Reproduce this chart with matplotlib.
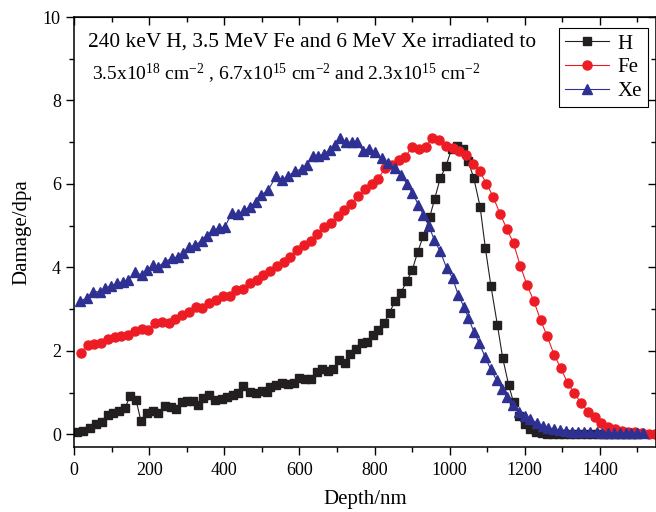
import matplotlib
matplotlib.use("Agg")
import matplotlib.pyplot as plt
from matplotlib.ticker import MultipleLocator

plt.rcParams['font.family'] = ['Liberation Serif', 'DejaVu Serif']
plt.rcParams['mathtext.fontset'] = 'custom'
plt.rcParams['mathtext.rm'] = 'Liberation Serif'
plt.rcParams['mathtext.it'] = 'Liberation Serif:italic'

# H (240 keV) damage profile
h_depth = [9, 25, 42, 59, 74, 91, 105, 121, 136, 149, 165, 178, 195, 209, 224, 242, 258, 271,
           287, 302, 318, 331, 344, 360, 375, 393, 408, 424, 437, 451, 468, 484, 500, 514,
           523, 539, 555, 571, 586, 600, 615, 630, 646, 660, 675, 690, 706, 721, 735, 751,
           766, 781, 795, 810, 825, 840, 855, 870, 886, 900, 915, 930, 947, 960, 975, 990,
           1005, 1020, 1035, 1049, 1064, 1081, 1095, 1110, 1127, 1141, 1157, 1170, 1185,
           1200, 1214, 1231, 1245, 1260, 1275, 1290, 1305, 1320, 1335, 1350, 1365, 1380,
           1395, 1410, 1425, 1440, 1455, 1470, 1485, 1500]
h_dpa = [0.07, 0.09, 0.15, 0.25, 0.29, 0.47, 0.51, 0.57, 0.64, 0.91, 0.83, 0.33, 0.51, 0.57,
         0.52, 0.68, 0.67, 0.60, 0.77, 0.81, 0.79, 0.71, 0.87, 0.95, 0.83, 0.84, 0.89, 0.95,
         0.99, 1.15, 1.01, 0.99, 1.03, 1.02, 1.13, 1.19, 1.24, 1.20, 1.24, 1.35, 1.33, 1.32,
         1.50, 1.58, 1.53, 1.58, 1.78, 1.72, 1.93, 2.05, 2.20, 2.21, 2.39, 2.51, 2.67, 2.92,
         3.20, 3.39, 3.68, 3.93, 4.37, 4.76, 5.21, 5.64, 6.14, 6.42, 6.84, 6.92, 6.85, 6.55,
         6.15, 5.46, 4.47, 3.55, 2.63, 1.84, 1.19, 0.77, 0.45, 0.25, 0.12, 0.05, 0.03, 0.02,
         0.01, 0.01, 0.01, 0.0, 0.0, 0.0, 0.0, 0.0, 0.0, 0.0, 0.0, 0.0, 0.0, 0.0, 0.0, 0.0]

# Fe (3.5 MeV)
fe_depth = [18, 36, 54, 72, 90, 108, 126, 144, 162, 180, 198, 216, 234, 252, 270, 288, 306,
            324, 342, 360, 378, 396, 414, 432, 450, 468, 486, 504, 522, 540, 558, 576, 594,
            612, 630, 648, 666, 684, 702, 720, 738, 756, 774, 792, 810, 828, 846, 864, 882,
            900, 918, 936, 954, 972, 990, 1008, 1026, 1044, 1062, 1080, 1098, 1116, 1134,
            1152, 1170, 1188, 1206, 1224, 1242, 1260, 1278, 1296, 1314, 1332, 1350, 1368,
            1386, 1404, 1422, 1440, 1458, 1476, 1494, 1512, 1530, 1546]
fe_dpa = [1.96, 2.15, 2.17, 2.19, 2.28, 2.33, 2.37, 2.39, 2.49, 2.53, 2.51, 2.67, 2.69, 2.67,
          2.77, 2.87, 2.94, 3.05, 3.04, 3.16, 3.21, 3.31, 3.31, 3.45, 3.48, 3.64, 3.71, 3.81,
          3.91, 4.03, 4.13, 4.25, 4.41, 4.53, 4.64, 4.80, 4.96, 5.07, 5.23, 5.37, 5.53, 5.72,
          5.88, 6.00, 6.13, 6.38, 6.45, 6.57, 6.65, 6.89, 6.85, 6.89, 7.11, 7.06, 6.92, 6.87,
          6.79, 6.70, 6.48, 6.30, 6.01, 5.69, 5.29, 4.93, 4.58, 4.04, 3.58, 3.20, 2.74, 2.35,
          1.91, 1.59, 1.23, 0.99, 0.75, 0.55, 0.41, 0.27, 0.19, 0.13, 0.08, 0.07, 0.05, 0.03,
          0.01, 0.01]

# Xe (6 MeV)
xe_depth = [16, 34, 50, 68, 83, 98, 114, 130, 145, 162, 180, 195, 211, 224, 242, 260, 278,
            291, 307, 322, 340, 353, 369, 387, 402, 420, 437, 452, 468, 484, 499, 517, 538,
            555, 571, 588, 606, 621, 635, 650, 666, 682, 695, 708, 724, 739, 753, 769, 785,
            801, 819, 837, 855, 870, 886, 901, 917, 930, 945, 959, 974, 992, 1008, 1023, 1038,
            1050, 1065, 1079, 1094, 1109, 1125, 1140, 1153, 1169, 1185, 1200, 1215, 1232,
            1248, 1263, 1278, 1294, 1311, 1327, 1342, 1358, 1373, 1391, 1406, 1422, 1438,
            1453, 1469, 1484, 1500, 1515]
xe_dpa = [3.19, 3.27, 3.42, 3.42, 3.50, 3.56, 3.62, 3.66, 3.70, 3.88, 3.82, 3.94, 4.06, 4.02,
          4.14, 4.22, 4.26, 4.34, 4.48, 4.54, 4.64, 4.76, 4.90, 4.94, 4.98, 5.30, 5.29, 5.37,
          5.45, 5.58, 5.74, 5.86, 6.18, 6.10, 6.20, 6.30, 6.36, 6.46, 6.68, 6.66, 6.73, 6.82,
          6.94, 7.10, 7.00, 7.00, 7.00, 6.80, 6.85, 6.76, 6.62, 6.50, 6.38, 6.22, 6.01, 5.78,
          5.50, 5.26, 4.99, 4.66, 4.40, 3.99, 3.74, 3.34, 3.06, 2.79, 2.45, 2.19, 1.86, 1.57,
          1.30, 1.08, 0.89, 0.70, 0.55, 0.45, 0.36, 0.28, 0.20, 0.16, 0.13, 0.11, 0.09, 0.07,
          0.07, 0.05, 0.05, 0.05, 0.04, 0.04, 0.04, 0.04, 0.04, 0.04, 0.03, 0.03]

fig = plt.figure(figsize=(6.56, 5.12), dpi=100)
ax = fig.add_axes([74 / 656, 65 / 512, 581.5 / 656, 430 / 512])

ax.plot(h_depth, h_dpa, color='#231f20', marker='s', ms=5.8, lw=0.8, label='H')
ax.plot(fe_depth, fe_dpa, color='#ed1c24', marker='o', ms=6.5, lw=0.8, label='Fe')
ax.plot(xe_depth, xe_dpa, color='#2e3192', marker='^', ms=7, lw=0.8, label='Xe')

ax.set_xlim(0, 1548)
ax.set_ylim(-0.3, 10)
ax.xaxis.set_major_locator(MultipleLocator(200))
ax.xaxis.set_minor_locator(MultipleLocator(100))
ax.yaxis.set_major_locator(MultipleLocator(2))
ax.yaxis.set_minor_locator(MultipleLocator(1))
ax.tick_params(which='major', direction='out', length=6, width=1, labelsize=13)
ax.tick_params(axis='x', which='major', pad=5)
ax.tick_params(which='minor', direction='out', length=3.5, width=1)
for s in ax.spines.values():
    s.set_linewidth(1.1)

# mirrored ticks pointing inward on top and right
top = ax.secondary_xaxis('top')
top.xaxis.set_major_locator(MultipleLocator(200))
top.xaxis.set_minor_locator(MultipleLocator(100))
top.tick_params(which='major', direction='in', length=6, width=1, labeltop=False)
top.tick_params(which='minor', direction='in', length=3.5, width=1)
right = ax.secondary_yaxis('right')
right.yaxis.set_major_locator(MultipleLocator(2))
right.yaxis.set_minor_locator(MultipleLocator(1))
right.tick_params(which='major', direction='in', length=6, width=1, labelright=False)
right.tick_params(which='minor', direction='in', length=3.5, width=1)

ax.set_xlabel('Depth/nm', fontsize=15, labelpad=8)
ax.set_ylabel('Damage/dpa', fontsize=15, labelpad=8)

ax.text(0.024, 0.965, '240 keV H, 3.5 MeV Fe and 6 MeV Xe irradiated to',
        transform=ax.transAxes, fontsize=15.4, va='top')
ax.text(0.031, 0.895,
        r'3.5x10$^{18}$ cm$^{-2}$ , 6.7x10$^{15}$ cm$^{-2}$ and 2.3x10$^{15}$ cm$^{-2}$',
        transform=ax.transAxes, fontsize=14, va='top')

leg = ax.legend(loc='upper right', bbox_to_anchor=(0.987, 0.975), borderaxespad=0,
                fontsize=15, fancybox=False, framealpha=1, edgecolor='black',
                handlelength=2.1, borderpad=0.3, labelspacing=0.2, handletextpad=0.4)
leg.get_frame().set_linewidth(0.8)

fig.savefig('out.png', dpi=100)
